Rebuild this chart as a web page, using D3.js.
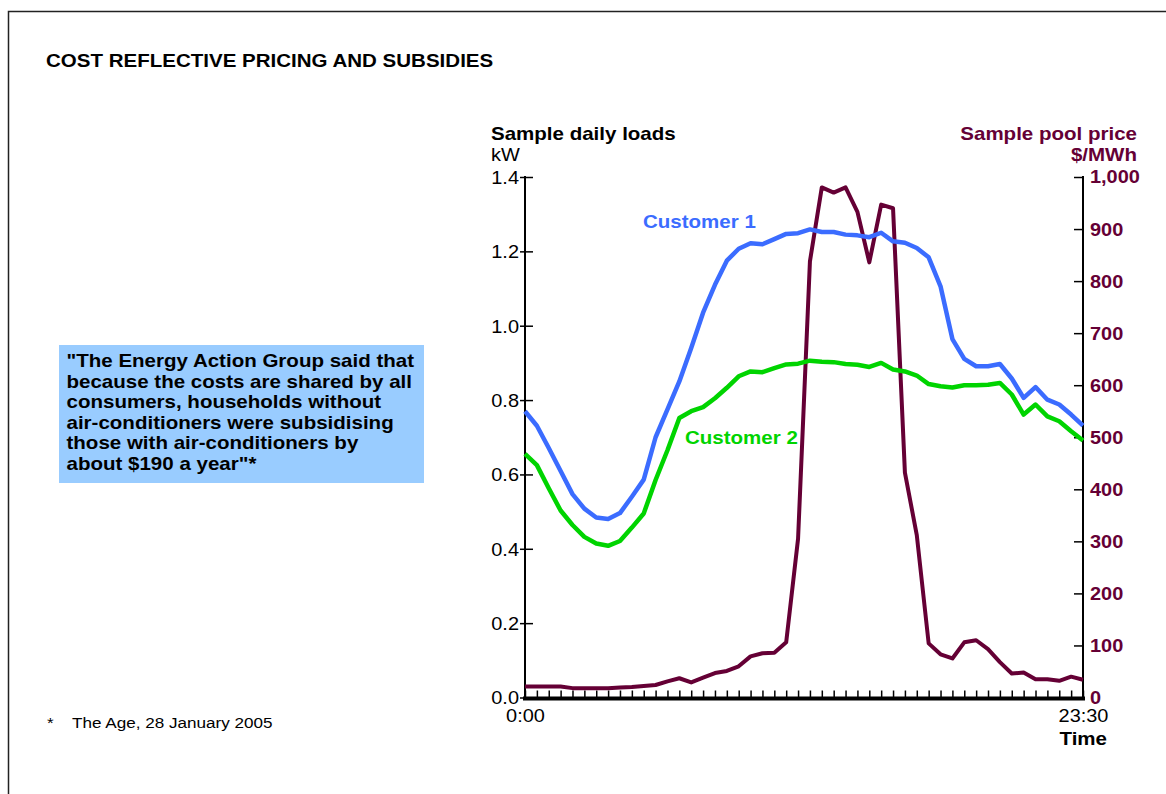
<!DOCTYPE html>
<html>
<head>
<meta charset="utf-8">
<script src="https://cdn.jsdelivr.net/npm/d3@7"></script>
<style>
  html, body { margin: 0; padding: 0; background: #fff; }
  svg { display: block; font-family: "Liberation Sans", Arial, Helvetica, sans-serif; }
</style>
</head>
<body>
<svg id="chart" width="1166" height="794"></svg>
<script>
// Half-hour time slots across the day
const timeSlots = [
  "0:00","0:30","1:00","1:30","2:00","2:30","3:00","3:30","4:00","4:30","5:00","5:30",
  "6:00","6:30","7:00","7:30","8:00","8:30","9:00","9:30","10:00","10:30","11:00","11:30",
  "12:00","12:30","13:00","13:30","14:00","14:30","15:00","15:30","16:00","16:30","17:00","17:30",
  "18:00","18:30","19:00","19:30","20:00","20:30","21:00","21:30","22:00","22:30","23:00","23:30"
];

// Sample daily loads, kW
const customer1 = [
  0.770,0.731,0.671,0.609,0.547,0.508,0.484,0.480,0.496,0.540,0.586,0.700,
  0.775,0.850,0.940,1.035,1.110,1.175,1.207,1.222,1.219,1.233,1.247,1.249,
  1.259,1.252,1.252,1.245,1.243,1.238,1.250,1.227,1.223,1.209,1.184,1.106,
  0.964,0.911,0.891,0.891,0.897,0.858,0.806,0.835,0.801,0.788,0.761,0.731
];
const customer2 = [
  0.655,0.625,0.563,0.503,0.464,0.432,0.414,0.408,0.421,0.457,0.495,0.585,
  0.665,0.752,0.770,0.781,0.805,0.833,0.864,0.877,0.875,0.886,0.896,0.898,
  0.906,0.903,0.902,0.897,0.895,0.889,0.900,0.882,0.877,0.866,0.843,0.837,
  0.834,0.840,0.840,0.841,0.846,0.815,0.761,0.788,0.756,0.743,0.716,0.691
];

// Sample pool price, $/MWh
const poolPrice = [
  21,21,21,21,18,18,18,18,19,20,22,24,
  31,37,29,38,47,51,60,79,85,86,106,305,
  838,980,970,980,933,836,947,940,432,312,104,83,
  75,106,110,93,68,46,48,35,35,32,40,34
];

const loadTicks = [0, 0.2, 0.4, 0.6, 0.8, 1.0, 1.2, 1.4];
const priceTicks = [0, 100, 200, 300, 400, 500, 600, 700, 800, 900, 1000];
const timeLabelSlots = ["0:00", "23:30"];

const quoteLines = [
  "\"The Energy Action Group said that",
  "because the costs are shared by all",
  "consumers, households without",
  "air-conditioners were subsidising",
  "those with air-conditioners by",
  "about $190 a year\"*"
];

const BLUE = "#3b6cff", GREEN = "#00d400", MAROON = "#650035", BOX = "#99ccff";
const SX = 1.14; // horizontal stretch applied to lettering

const svg = d3.select("#chart");

// text helper: places a horizontally-stretched label
function label(x, y, str, o = {}) {
  return svg.append("text")
    .attr("transform", `translate(${x},${y}) scale(${SX},1)`)
    .attr("text-anchor", o.anchor || "start")
    .attr("font-size", o.size || 18)
    .attr("font-weight", o.bold ? "bold" : "normal")
    .attr("fill", o.fill || "#000")
    .text(str);
}

// outer frame
svg.append("rect")
  .attr("x", 8.5).attr("y", 11.5).attr("width", 1300).attr("height", 900)
  .attr("fill", "none").attr("stroke", "#222").attr("stroke-width", 1.5);

label(46, 67, "COST REFLECTIVE PRICING AND SUBSIDIES", { bold: true, size: 18 });

// quote panel
svg.append("rect").attr("x", 59).attr("y", 345).attr("width", 365).attr("height", 138).attr("fill", BOX);
quoteLines.forEach((t, i) => label(66.5, 367 + i * 20.6, t, { bold: true, size: 18 }));

// footnote
label(47, 728, "*", { size: 15 });
label(72, 728, "The Age, 28 January 2005", { size: 15 });

// scales
const x = d3.scaleLinear().domain([0, timeSlots.length - 1]).range([525, 1083]);
const yLoad = d3.scaleLinear().domain([0, 1.4]).range([697.5, 177]);
const yPrice = d3.scaleLinear().domain([0, 1000]).range([697.5, 177]);

function stretchText(sel) {
  sel.selectAll("text").each(function () {
    const t = d3.select(this);
    const xv = +t.attr("x") || 0;
    t.attr("x", xv / SX).attr("transform", `scale(${SX},1)`);
  });
}

// left axis (loads)
const gL = svg.append("g").attr("transform", "translate(525,0)")
  .call(d3.axisLeft(yLoad).tickValues(loadTicks).tickFormat(d3.format(".1f")).tickSize(0).tickPadding(6));
gL.select(".domain").remove();
gL.selectAll(".tick line").remove();
gL.selectAll(".tick").append("line").attr("x1", -5).attr("x2", 8).attr("stroke", "#000").attr("stroke-width", 1.5);
gL.selectAll("text").attr("font-size", 17.5).attr("font-family", null).attr("fill", "#000").attr("dy", "0.36em");
stretchText(gL);
svg.append("line").attr("x1", 525).attr("x2", 525).attr("y1", 176).attr("y2", 698).attr("stroke", "#000").attr("stroke-width", 2);

// right axis (price)
const gR = svg.append("g").attr("transform", "translate(1083,0)")
  .call(d3.axisRight(yPrice).tickValues(priceTicks).tickFormat(d3.format(",")).tickSize(0).tickPadding(7));
gR.select(".domain").remove();
gR.selectAll(".tick line").remove();
gR.selectAll(".tick").append("line").attr("x1", -9).attr("x2", 0).attr("stroke", "#000").attr("stroke-width", 1.5);
gR.selectAll("text").attr("font-size", 17.5).attr("font-weight", "bold").attr("font-family", null).attr("fill", MAROON).attr("dy", "0.34em");
stretchText(gR);
svg.append("line").attr("x1", 1083).attr("x2", 1083).attr("y1", 176).attr("y2", 698).attr("stroke", "#000").attr("stroke-width", 2);

// time axis: a tick every half hour, labels at the ends
const gX = svg.append("g").attr("transform", "translate(0,697.5)")
  .call(d3.axisBottom(x).tickValues(d3.range(timeSlots.length)).tickSize(-7).tickFormat(""));
gX.select(".domain").remove();
gX.selectAll(".tick line").attr("stroke", "#000").attr("stroke-width", 1.5);
svg.append("line").attr("x1", 523).attr("x2", 1085).attr("y1", 698.5).attr("y2", 698.5).attr("stroke", "#000").attr("stroke-width", 4);

const gXL = svg.append("g").attr("transform", "translate(0,697.5)")
  .call(d3.axisBottom(x).tickValues(timeLabelSlots.map(s => timeSlots.indexOf(s)))
    .tickFormat(i => timeSlots[i]).tickSize(0).tickPadding(12));
gXL.select(".domain").remove();
gXL.selectAll("text").attr("font-size", 17.5).attr("font-family", null).attr("fill", "#000");
stretchText(gXL);

// axis titles
label(491, 140, "Sample daily loads", { bold: true, size: 18 });
label(491, 161, "kW", { size: 17.5 });
label(1137, 140, "Sample pool price", { bold: true, size: 18, anchor: "end", fill: MAROON });
label(1137, 161, "$/MWh", { bold: true, size: 18, anchor: "end", fill: MAROON });
label(1107, 745, "Time", { bold: true, size: 18, anchor: "end" });

// series
const loadLine = d3.line().x((d, i) => x(i)).y(d => yLoad(d));
const priceLine = d3.line().x((d, i) => x(i)).y(d => yPrice(d));

svg.append("path").datum(poolPrice).attr("d", priceLine)
  .attr("fill", "none").attr("stroke", MAROON).attr("stroke-width", 4).attr("stroke-linejoin", "round");
svg.append("path").datum(customer2).attr("d", loadLine)
  .attr("fill", "none").attr("stroke", GREEN).attr("stroke-width", 4.5).attr("stroke-linejoin", "round");
svg.append("path").datum(customer1).attr("d", loadLine)
  .attr("fill", "none").attr("stroke", BLUE).attr("stroke-width", 4.5).attr("stroke-linejoin", "round");

// series labels
label(643, 228, "Customer 1", { bold: true, size: 18, fill: BLUE });
label(685, 443.5, "Customer 2", { bold: true, size: 18, fill: GREEN });
</script>
</body>
</html>
